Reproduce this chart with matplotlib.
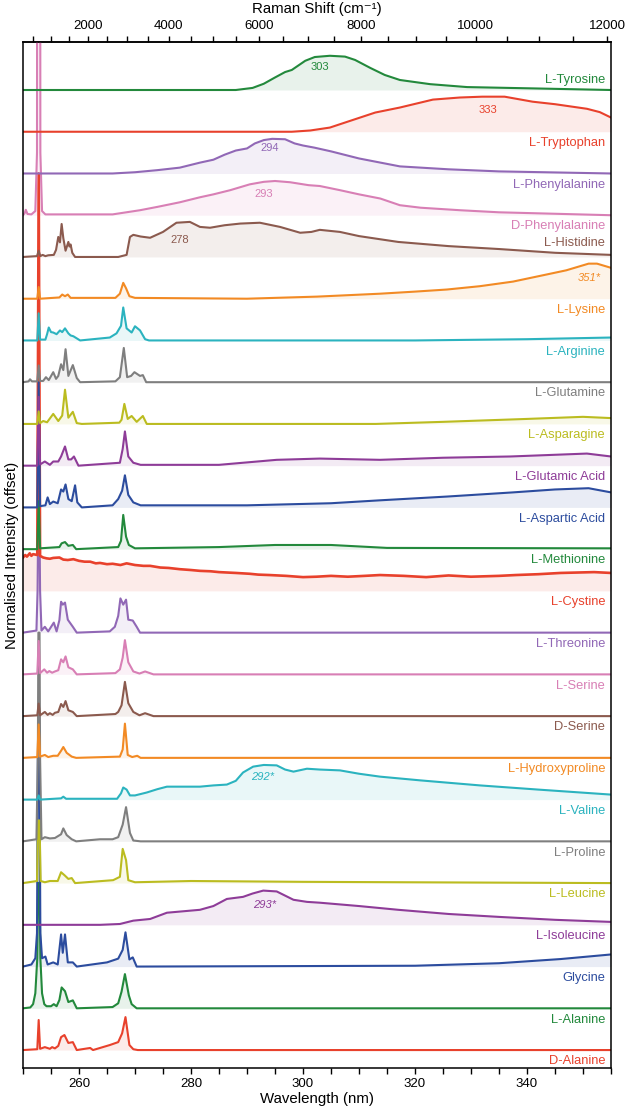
import numpy as np
import matplotlib
matplotlib.use("Agg")
import matplotlib.pyplot as plt
from matplotlib.ticker import MultipleLocator, FixedLocator
from matplotlib.transforms import blended_transform_factory

plt.rcParams['font.family'] = ['Liberation Sans', 'DejaVu Sans']

LASER_NM = 248.6

# ---------------- data (wavelength nm, normalised intensity above baseline) ----------------
tyrosine = [(250, 0), (288, 0), (291, 0.05), (293, 0.15), (295, 0.3), (296.8, 0.43), (298, 0.48),
            (300.4, 0.7), (302.1, 0.79), (304.8, 0.82), (307.5, 0.8), (309.3, 0.72), (312, 0.53),
            (314.6, 0.36), (317.3, 0.24), (322.7, 0.14), (329.3, 0.07), (340.5, 0.04), (355, 0.0)]
tryptophan = [(250, 0), (298, 0), (301.3, 0.03), (304.8, 0.1), (308.4, 0.26), (312.9, 0.46),
              (317.3, 0.58), (323.2, 0.77), (328, 0.82), (332, 0.84), (336, 0.84), (341, 0.72),
              (345, 0.66), (350.7, 0.55), (353, 0.47), (355, 0.34)]
l_phe = [(250, 0), (266, 0), (270, 0.03), (274, 0.08), (278, 0.14), (281.6, 0.26), (284, 0.33),
         (286, 0.45), (288, 0.55), (290, 0.6), (291.4, 0.72), (293, 0.8), (294.5, 0.83),
         (296.8, 0.82), (298.5, 0.72), (300, 0.67), (302, 0.62), (305, 0.53), (310, 0.36),
         (317.3, 0.17), (326, 0.1), (335, 0.05), (355, 0.0)]
d_phe = [(250, 0), (250.3, 0.05), (250.5, 0.13), (250.8, 0.03), (251.5, 0.02), (252.2, 0.1),
         (252.5, 1.5), (252.6, 25), (253.0, 25), (253.1, 1.5), (253.4, 0.1), (254, 0.02),
         (266, 0.02), (270.9, 0.12), (274, 0.2), (278, 0.31), (281.6, 0.43), (284, 0.5),
         (287, 0.6), (290.5, 0.74), (293, 0.8), (295, 0.82), (297.7, 0.79), (301, 0.72),
         (303, 0.7), (306.6, 0.6), (310, 0.5), (313.8, 0.4), (317.3, 0.24), (321, 0.18),
         (328, 0.12), (335, 0.07), (355, 0.0)]
histidine = [(250, 0), (252.5, 0.02), (252.8, 0.15), (253.1, 0.02), (253.5, 0.05), (254, 0.02),
             (254.5, 0.04), (255.5, 0.05), (255.9, 0.17), (256.3, 0.48), (256.6, 0.35),
             (256.9, 0.79), (257.2, 0.45), (257.6, 0.15), (258.1, 0.36), (258.3, 0.25),
             (258.5, 0.3), (258.8, 0.1), (259.3, 0.0), (267, 0.0), (268.5, 0.05), (269.1, 0.48),
             (269.7, 0.53), (271, 0.49), (272.7, 0.46), (275, 0.6), (277.4, 0.82), (279.8, 0.84),
             (281.6, 0.72), (283.4, 0.7), (286, 0.76), (288.8, 0.8), (292.3, 0.82), (295.9, 0.72),
             (299.5, 0.58), (301.5, 0.6), (303, 0.65), (306.6, 0.6), (310, 0.5), (317, 0.36),
             (326, 0.26), (335, 0.19), (345, 0.1), (355, 0.05)]
lysine = [(250, 0), (252.55, 0), (252.8, 0.28), (253.05, 0.0), (256.5, 0.03), (257, 0.1),
          (257.5, 0.06), (258, 0.1), (258.5, 0.02), (266.5, 0.02), (267.3, 0.12), (267.9, 0.38),
          (268.4, 0.25), (269, 0.06), (270, 0.02), (290, 0.0), (302.5, 0.05), (313.75, 0.12),
          (320, 0.17), (325.7, 0.22), (331.6, 0.3), (337.5, 0.41), (343.5, 0.58), (347, 0.68),
          (349, 0.76), (351, 0.84), (352.5, 0.84), (355, 0.74)]
arginine = [(250, 0), (252.55, 0), (252.8, 0.65), (253.05, 0.02), (254, 0.02), (254.3, 0.15),
            (254.6, 0.31), (255, 0.2), (255.4, 0.19), (256, 0.15), (256.6, 0.24), (257, 0.2),
            (257.5, 0.29), (258.1, 0.17), (258.5, 0.12), (259, 0.1), (260.2, 0.0), (265.5, 0.07),
            (266.7, 0.17), (267.5, 0.35), (267.9, 0.79), (268.5, 0.29), (269.4, 0.19), (270, 0.34),
            (270.9, 0.24), (271.8, 0.03), (272.5, 0.0), (320, 0.0), (340, 0.03), (355, 0.07)]
glutamine = [(250, 0), (251, 0.02), (251.25, 0.07), (251.6, 0.02), (252.55, 0.02), (252.8, 0.4),
             (253.05, 0.03), (253.6, 0.03), (254.1, 0.12), (254.6, 0.05), (255.4, 0.24),
             (255.9, 0.08), (256.3, 0.15), (256.8, 0.43), (257.2, 0.29), (257.6, 0.79),
             (258.1, 0.15), (258.9, 0.41), (259.6, 0.1), (260.2, 0.0), (266.5, 0.02), (267.3, 0.12),
             (268, 0.82), (268.6, 0.12), (269.3, 0.15), (269.9, 0.24), (270.9, 0.15), (271.4, 0.17),
             (272, 0.0), (355, 0.0)]
asparagine = [(250, 0), (252.55, 0), (252.8, 0.3), (253.05, 0.02), (253.6, 0.07), (254.3, 0.04),
              (255.4, 0.24), (256.3, 0.07), (257.0, 0.2), (257.5, 0.82), (258.1, 0.15),
              (258.9, 0.29), (259.6, 0.02), (260.5, 0.0), (267.2, 0.03), (267.6, 0.1), (268.1, 0.48),
              (268.7, 0.12), (269.4, 0.19), (270.3, 0.05), (271.4, 0.19), (272.1, 0.0), (313, 0.0),
              (325, 0.05), (340, 0.12), (350, 0.17), (355, 0.14)]
glutamic = [(250, 0), (252.55, 0), (252.8, 1.65), (253.05, 0.03), (253.9, 0.1), (254.8, 0.02),
            (255.4, 0.1), (256.3, 0.1), (256.8, 0.22), (257.5, 0.46), (258.1, 0.15), (258.6, 0.15),
            (259.1, 0.22), (259.9, 0.0), (267.3, 0.07), (267.8, 0.4), (268.2, 0.82), (268.8, 0.22),
            (269.7, 0.07), (271, 0.02), (285, 0.02), (295.3, 0.14), (303, 0.17), (313.75, 0.14),
            (325, 0.19), (337, 0.22), (350.7, 0.29), (355, 0.22)]
aspartic = [(250, 0), (252.55, 0), (252.8, 3.0), (253.05, 0.03), (254.0, 0.05), (254.4, 0.24),
            (254.8, 0.08), (255.4, 0.14), (256.2, 0.1), (256.8, 0.43), (257.2, 0.38), (257.6, 0.55),
            (258.1, 0.2), (258.7, 0.15), (259.3, 0.53), (259.7, 0.12), (260.5, 0.0), (266, 0.05),
            (267, 0.2), (267.7, 0.4), (268.2, 0.77), (268.8, 0.3), (269.7, 0.12), (271, 0.05),
            (290, 0.05), (305, 0.1), (313.75, 0.17), (325.7, 0.26), (337.5, 0.36), (345, 0.43),
            (351, 0.46), (355, 0.36)]
methionine = [(250, 0), (252.55, 0), (252.8, 1.15), (253.05, 0.02), (256.5, 0.05), (256.9, 0.14),
              (257.5, 0.17), (258.1, 0.08), (258.9, 0.1), (259.5, 0.0), (267.0, 0.05), (267.5, 0.2),
              (267.9, 0.82), (268.4, 0.3), (268.9, 0.1), (270, 0.02), (285, 0.05), (295, 0.1),
              (305, 0.1), (315, 0.03), (355, 0.02)]
cystine = [(250, 0.8), (250.4, 0.86), (250.7, 0.82), (251.2, 0.9), (251.5, 0.84), (251.8, 0.88),
           (252.55, 0.86), (252.8, 10), (253.05, 0.84), (253.6, 0.8), (254.2, 0.78), (254.8, 0.77),
           (255.4, 0.79), (256.5, 0.8), (257.2, 0.75), (258, 0.74), (259, 0.76), (260, 0.72),
           (261, 0.7), (262, 0.7), (263, 0.66), (263.75, 0.67), (265, 0.64), (266, 0.65),
           (267.4, 0.62), (268.5, 0.66), (270, 0.62), (271.5, 0.6), (272.7, 0.6), (274.5, 0.56),
           (276, 0.55), (278, 0.52), (280, 0.5), (281.6, 0.48), (283.5, 0.47), (285, 0.45),
           (288, 0.43), (290.5, 0.41), (292, 0.39), (294, 0.38), (297, 0.36), (300, 0.33),
           (302.4, 0.34), (305, 0.36), (308, 0.34), (311, 0.36), (313.75, 0.38), (318, 0.36),
           (322, 0.33), (326, 0.37), (330, 0.34), (335, 0.36), (338, 0.38), (342, 0.4),
           (346, 0.43), (349, 0.44), (352, 0.45), (355, 0.43)]
threonine = [(250, 0), (252.4, 0.05), (252.6, 1.0), (252.7, 2.5), (252.95, 2.5), (253.05, 1.0),
             (253.3, 0.05), (253.9, 0.14), (254.5, 0.03), (255.5, 0.24), (256, 0.03), (256.5, 0.3),
             (256.8, 0.74), (257.1, 0.67), (257.5, 0.72), (258, 0.31), (258.9, 0.14), (259.6, 0.0),
             (265.5, 0.03), (266.4, 0.14), (267, 0.4), (267.4, 0.82), (267.9, 0.67), (268.4, 0.79),
             (268.8, 0.31), (269.6, 0.29), (270.3, 0.14), (270.9, 0.0), (355, 0.0)]
l_serine = [(250, 0), (252.55, 0.02), (252.8, 0.8), (253.05, 0.03), (253.8, 0.12), (254.3, 0.04),
            (254.7, 0.08), (255.2, 0.04), (255.7, 0.07), (256.3, 0.1), (256.8, 0.36), (257.2, 0.29),
            (257.6, 0.43), (258.1, 0.17), (258.9, 0.12), (259.6, 0.0), (266.5, 0.03), (267.3, 0.12),
            (267.8, 0.4), (268.2, 0.82), (268.8, 0.29), (269.7, 0.07), (270.8, 0.02), (271.8, 0.07),
            (273.3, 0.0), (355, 0.0)]
d_serine = [(250, 0), (252.55, 0.02), (252.8, 0.3), (253.05, 0.02), (253.9, 0.1), (254.4, 0.03),
            (254.8, 0.07), (255.3, 0.03), (255.7, 0.08), (256.3, 0.1), (256.8, 0.29), (257.2, 0.22),
            (257.6, 0.36), (258.1, 0.14), (258.9, 0.1), (259.6, 0.0), (266.5, 0.05), (267, 0.1),
            (267.6, 0.26), (268.2, 0.82), (268.8, 0.31), (269.7, 0.1), (270.8, 0.02), (271.8, 0.07),
            (273.3, 0.0), (355, 0.0)]
hydroxyproline = [(250, 0), (252.55, 0.02), (252.8, 0.8), (253.05, 0.03), (253.9, 0.07),
                  (254.5, 0.02), (255.4, 0.05), (256.2, 0.05), (256.8, 0.17), (257.2, 0.26),
                  (257.8, 0.12), (258.7, 0.03), (259.5, 0.0), (267.3, 0.03), (267.8, 0.2),
                  (268.2, 0.82), (268.7, 0.07), (269.5, 0.02), (270.4, 0.05), (271, 0.0), (355, 0.0)]
valine = [(250, 0), (252.55, 0.0), (252.8, 0.1), (253.05, 0.0), (256.8, 0.03), (257.2, 0.07),
          (257.7, 0.02), (266.8, 0.02), (267.5, 0.15), (267.9, 0.29), (268.5, 0.24), (269.1, 0.1),
          (270, 0.1), (272.1, 0.17), (274, 0.25), (275.7, 0.31), (281.6, 0.31), (284, 0.34),
          (286.4, 0.36), (288, 0.45), (289.3, 0.65), (291.1, 0.79), (293, 0.83), (295.3, 0.82),
          (296.8, 0.72), (298.3, 0.67), (300.7, 0.74), (303, 0.72), (306.6, 0.7), (310, 0.62),
          (313.75, 0.55), (321, 0.46), (331.6, 0.34), (342, 0.24), (355, 0.12)]
proline = [(250, 0), (252.4, 0.05), (252.65, 2), (252.75, 5), (252.95, 5), (253.05, 2),
           (253.3, 0.05), (253.9, 0.1), (254.8, 0.07), (255.7, 0.08), (256.8, 0.17), (257.2, 0.31),
           (257.8, 0.15), (258.7, 0.05), (259.5, 0.0), (263.75, 0.05), (266, 0.05), (267, 0.1),
           (267.8, 0.4), (268.4, 0.82), (269.1, 0.2), (269.7, 0.02), (271, 0.0), (355, 0.0)]
leucine = [(250, 0), (252.5, 0.05), (252.7, 1.5), (252.95, 1.5), (253.15, 0.05), (253.9, 0.02),
           (254.8, 0.05), (256.2, 0.05), (256.8, 0.26), (257.4, 0.19), (258.1, 0.1), (258.7, 0.12),
           (259.3, 0.0), (266.1, 0.07), (267.3, 0.15), (267.8, 0.82), (268.4, 0.55), (268.8, 0.07),
           (270, 0.02), (280, 0.05), (300, 0.03), (355, 0.0)]
isoleucine = [(250, 0), (263.75, 0), (267.3, 0.02), (269.7, 0.1), (272.7, 0.14), (275.7, 0.29),
              (281.6, 0.36), (284, 0.45), (286.4, 0.62), (289.3, 0.67), (291, 0.75), (292.9, 0.82),
              (295.3, 0.8), (296.8, 0.7), (298.3, 0.6), (300.7, 0.55), (303, 0.53), (310, 0.45),
              (317, 0.36), (326, 0.26), (335, 0.19), (345, 0.12), (355, 0.07)]
glycine = [(250, 0), (251.5, 0.05), (252.2, 0.2), (252.5, 0.8), (252.65, 5), (252.95, 5),
           (253.1, 0.8), (253.4, 0.2), (254, 0.24), (254.4, 0.05), (255.4, 0.1), (256.2, 0.05),
           (256.8, 0.77), (257.1, 0.33), (257.5, 0.77), (258, 0.1), (258.9, 0.1), (259.6, 0.0),
           (265, 0.1), (267, 0.19), (267.8, 0.4), (268.3, 0.82), (269, 0.17), (269.6, 0.22),
           (270.3, 0.0), (320, 0.02), (335, 0.08), (346, 0.18), (355, 0.29)]
l_alanine = [(250, 0), (251.3, 0.02), (251.8, 0.1), (252.2, 0.36), (252.55, 1.2), (252.7, 3),
             (252.95, 3), (253.1, 1.2), (253.4, 0.36), (253.8, 0.1), (254.2, 0.05), (255, 0.05),
             (255.5, 0.1), (256, 0.05), (256.5, 0.2), (256.9, 0.5), (257.5, 0.41), (258.1, 0.15),
             (258.9, 0.19), (259.6, 0.0), (266, 0.03), (267, 0.12), (267.6, 0.4), (268.2, 0.82),
             (268.9, 0.31), (269.4, 0.1), (270.3, 0.0), (355, 0.0)]
d_alanine = [(250, 0), (252.55, 0.02), (252.8, 0.72), (253.05, 0.03), (253.9, 0.07), (254.8, 0.03),
             (255.2, 0.07), (255.7, 0.04), (256.3, 0.1), (256.8, 0.31), (257.4, 0.36), (258.1, 0.17),
             (258.9, 0.19), (259.6, 0.0), (262, 0.05), (262.5, 0.0), (265.5, 0.12), (267, 0.19),
             (267.7, 0.4), (268.3, 0.79), (269, 0.12), (269.7, 0.02), (270.5, 0.0), (355, 0.0)]

# bottom to top
names = ["D-Alanine", "L-Alanine", "Glycine", "L-Isoleucine", "L-Leucine", "L-Proline",
         "L-Valine", "L-Hydroxyproline", "D-Serine", "L-Serine", "L-Threonine", "L-Cystine",
         "L-Methionine", "L-Aspartic Acid", "L-Glutamic Acid", "L-Asparagine", "L-Glutamine",
         "L-Arginine", "L-Lysine", "L-Histidine", "D-Phenylalanine", "L-Phenylalanine",
         "L-Tryptophan", "L-Tyrosine"]
spectra = [d_alanine, l_alanine, glycine, isoleucine, leucine, proline, valine, hydroxyproline,
           d_serine, l_serine, threonine, cystine, methionine, aspartic, glutamic, asparagine,
           glutamine, arginine, lysine, histidine, d_phe, l_phe, tryptophan, tyrosine]

# peak annotations: (compound, wavelength, height above baseline, text)
peak_labels = [("L-Tyrosine", 303, 0.55, "303"), ("L-Tryptophan", 333, 0.53, "333"),
               ("L-Phenylalanine", 294, 0.6, "294"), ("D-Phenylalanine", 293, 0.5, "293"),
               ("L-Histidine", 278, 0.41, "278"), ("L-Lysine", 351.2, 0.5, "351*"),
               ("L-Valine", 292.8, 0.55, "292*"), ("L-Isoleucine", 293.2, 0.48, "293*")]

bottom_ticks = [260, 280, 300, 320, 340]
top_ticks = [2000, 4000, 6000, 8000, 10000, 12000]

# ---------------- styles ----------------
GREEN, RED, PURPLE, PINK = '#23893c', '#e8412c', '#9168b6', '#d87fb5'
BROWN, ORANGE, CYAN, GRAY = '#8b5a4e', '#f28a24', '#2bb3bf', '#7f7f7f'
OLIVE, MAGENTA, BLUE = '#bbbc20', '#8e3c98', '#2c4c9e'
colors = {"L-Tyrosine": GREEN, "L-Tryptophan": RED, "L-Phenylalanine": PURPLE,
          "D-Phenylalanine": PINK, "L-Histidine": BROWN, "L-Lysine": ORANGE,
          "L-Arginine": CYAN, "L-Glutamine": GRAY, "L-Asparagine": OLIVE,
          "L-Glutamic Acid": MAGENTA, "L-Aspartic Acid": BLUE, "L-Methionine": GREEN,
          "L-Cystine": RED, "L-Threonine": PURPLE, "L-Serine": PINK, "D-Serine": BROWN,
          "L-Hydroxyproline": ORANGE, "L-Valine": CYAN, "L-Proline": GRAY, "L-Leucine": OLIVE,
          "L-Isoleucine": MAGENTA, "Glycine": BLUE, "L-Alanine": GREEN, "D-Alanine": RED}
label_dy = {"L-Tyrosine": 0.24, "L-Histidine": 0.34}

fig = plt.figure(figsize=(6.25, 11.13), dpi=100)
ax = fig.add_axes([23 / 625, 1 - 1068 / 1113, 588 / 625, 1026 / 1113])
lab_tr = blended_transform_factory(ax.transAxes, ax.transData)

for i, (name, spec) in enumerate(zip(names, spectra)):
    wl = np.array([p[0] for p in spec], dtype=float)
    val = np.array([p[1] for p in spec], dtype=float)
    c = colors[name]
    ax.fill_between(wl, i, i + val, color=c, alpha=0.1, lw=0, zorder=1 + i * 0.01)
    lw = 1.9 if name == "L-Cystine" else 1.5
    ax.plot(wl, i + val, color=c, lw=lw, zorder=2 + i * 0.01, solid_joinstyle='round')
    ax.text(0.99, i + label_dy.get(name, -0.27), name, transform=lab_tr, ha='right',
            va='center', color=c, fontsize=9.3, zorder=5)

for name, w, h, txt in peak_labels:
    i = names.index(name)
    ax.text(w, i + h, txt, ha='center', va='center', color=colors[name], fontsize=8,
            style='italic' if '*' in txt else 'normal', zorder=5)

ax.set_xlim(250, 355)
ax.set_ylim(-0.43, 24.15)
ax.set_yticks([])
ax.xaxis.set_major_locator(FixedLocator(bottom_ticks))
ax.xaxis.set_minor_locator(MultipleLocator(5))
ax.tick_params(axis='x', which='both', direction='out', length=4, width=1, labelsize=9.5, pad=3)
ax.set_xlabel("Wavelength (nm)", fontsize=10.8, labelpad=2)
ax.set_ylabel("Normalised Intensity (offset)", fontsize=10.8, labelpad=3)
for s in ax.spines.values():
    s.set_linewidth(1.1)


def wl_to_shift(w):
    w = np.asarray(w, dtype=float)
    with np.errstate(divide='ignore', invalid='ignore'):
        return 1e7 / LASER_NM - 1e7 / w


def shift_to_wl(s):
    s = np.asarray(s, dtype=float)
    with np.errstate(divide='ignore', invalid='ignore'):
        return 1e7 / (1e7 / LASER_NM - s)


sec = ax.secondary_xaxis('top', functions=(wl_to_shift, shift_to_wl))
sec.xaxis.set_major_locator(FixedLocator(top_ticks))
sec.xaxis.set_minor_locator(MultipleLocator(500))
sec.tick_params(axis='x', which='both', direction='out', length=4, width=1, labelsize=9.5, pad=3)
sec.spines['top'].set_linewidth(1.1)
fig.text(0.5 * (23 + 611) / 625, 1 - 9 / 1113, "Raman Shift (cm\u207b\u00b9)", ha='center',
         va='center', fontsize=10.8, family=['Liberation Sans', 'DejaVu Sans'])

fig.savefig("out.png", dpi=100)
